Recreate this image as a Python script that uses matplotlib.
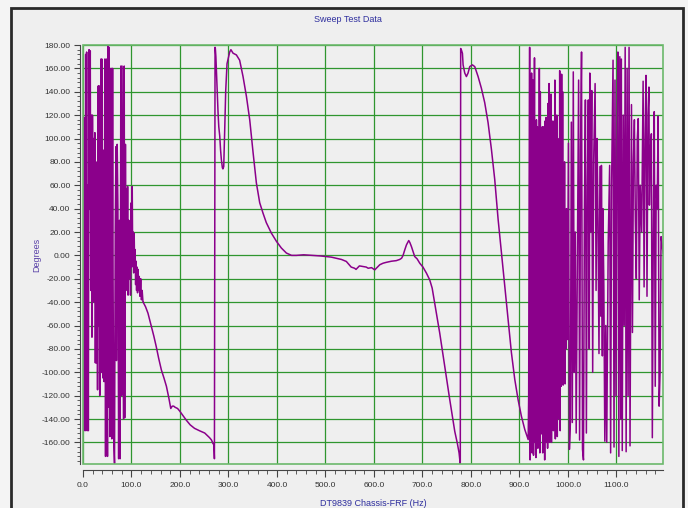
import numpy as np
import matplotlib.pyplot as plt
from matplotlib.patches import Rectangle
from matplotlib.ticker import MultipleLocator, FormatStrFormatter

plt.rcParams['font.family'] = ['Liberation Sans', 'DejaVu Sans']

# noisy start, 0-124 Hz
freq_a = [0.5, 1.5, 2.5, 3.5, 4.5, 5.5, 6.5, 7.5, 8.5, 10, 11, 12.5, 13.5, 15, 16, 17.5, 18.5, 19.5,
          21, 22, 23, 24.5, 25.5, 26.5, 27.5, 29, 30, 31.5, 32.5, 33.5, 34.5, 36, 37, 38, 39, 40,
          41.5, 42.5, 43.5, 45, 46.5, 48, 49, 50.5, 52, 53, 54, 55.5, 57, 58, 59.5, 61, 62, 63.5,
          65, 66.5, 68, 69, 70.5, 72, 73.5, 75, 76.5, 78, 79.5, 80.5, 82, 83.5, 85, 86, 87.5, 88.5,
          90, 91, 92, 93, 94.5, 95.5, 97, 98, 99.5, 100.5, 101.5, 102.5, 103.5, 104.5, 105.5,
          106.5, 107.5, 108.5, 109.5, 110.5, 111.5, 112.5, 113.5, 115, 116, 117.5, 119, 120.5,
          122, 123.7]
phase_a = [118, -150, 118, 10, -150, 172, -80, 174, -150, 60, -150, 176, 40, 175, -30, 120, -70, 120,
           20, 100, -40, 105, -92, 60, -92, 80, -115, 145, -60, 145, -120, 30, 168, -100, 168, 40,
           -105, 90, -108, 168, -172, 168, -40, -172, 180, -130, 178, -155, 60, 160, -157, 160, -20, -160,
           -178, 20, 93, -90, 95, 40, -174, 30, -174, 162, -120, 162, 20, -140, 162, -139, 95, -30,
           57, -20, 59, -34, 30, -20, 15, -34, 45, -10, 59, -5, 20, -15, 19,
           -10, 5, -25, -5, -30, -10, -32, -12, -30, -18, -35, -20, -38,
           -30, -40]

# smooth fall, 124-271 Hz
freq_b = [124, 129, 134, 141, 146, 151, 156, 161.6, 167, 172, 177, 181, 184, 187, 190, 195, 199,
          206, 213, 221, 230, 240, 251, 256, 261, 265, 268, 270, 271]
phase_b = [-40, -44, -49.5, -61, -69, -78, -88, -98, -105, -112, -122, -131, -129, -129, -130, -131, -133,
           -137, -141, -145, -148, -150, -152, -154, -156, -158, -161, -162, -174]

# wrap and peak, 272-430 Hz
freq_c = [272.3, 272.9, 274, 275, 276.5, 278.5, 280, 282, 283.7, 285.3, 287.4, 288.5, 290.2, 291,
          292.2, 294.3, 297, 302.5, 305, 309.4, 316.3, 323, 330, 337, 343.8, 350.7, 357.5, 364.4,
          371.3, 378, 388.5, 398.9, 409, 419.4, 430]
phase_c = [178, 177, 170, 159, 140, 122, 110, 102, 90, 82, 75, 74, 76, 90,
           107, 141, 164, 174, 176, 173, 171.5, 167, 153, 136, 116, 88, 62, 45,
           36, 28, 19, 12, 6.3, 2, 0]

# flat part, 440-720 Hz
freq_d = [440, 455, 474, 490, 502, 512, 522.5, 533, 543, 553, 560, 563, 570, 577.5, 584, 588, 595,
          601.6, 612, 618.8, 625, 636, 646, 653, 657, 660, 663.5, 667, 671.7, 674, 677.2, 684, 689,
          694.4, 701, 708.2, 715, 720]
phase_d = [0, 0.5, 0, -0.5, -1, -1.5, -2.5, -3.5, -5.2, -10, -11, -12, -9, -9.5, -10, -11, -10.5,
           -12.4, -8, -6.7, -6, -5, -4.5, -3.5, -2.4, 0, 4.7, 9, 12.7, 11, 7.6, -1, -3,
           -6.7, -10, -15.2, -21, -28]

# second wrap, 725-918 Hz
freq_e = [725.3, 735.6, 745.9, 756.3, 766.6, 772, 775.5, 778, 778.8, 780.3, 782.4, 783.8, 787.2,
          790.6, 794, 797.5, 803, 807.8, 814.7, 821.5, 828.4, 835.3, 842.2, 849, 856, 862.8, 869.7,
          876.6, 883.4, 890.3, 897.2, 904, 911, 918]
phase_e = [-41, -66.5, -95, -123.5, -150.6, -161, -169, -179, 177, 175.7, 172.9, 163, 156,
           153, 156, 161.5, 163, 161.5, 153, 143, 130.6, 113.5, 90.7, 65, 30.8, 2.3, -26.2,
           -54.7, -83.2, -106, -123.5, -137.6, -149, -157.6]

# dense noise, 919-997 Hz
freq_f = [919, 920, 921, 922, 923, 924, 925, 926, 927, 928, 929, 930, 931, 932, 933, 934, 935, 936,
          937, 938, 939, 940, 941, 942, 943, 944, 945, 946, 947, 948, 949, 950, 951, 952, 953, 954,
          955, 956, 957, 958, 959, 960, 961, 962, 963, 964, 965, 966, 967, 968, 969, 970, 971, 972,
          973, 974, 975, 976, 977, 978, 979, 980, 981, 982, 983, 984, 985, 986, 987, 988, 989, 990,
          991, 992, 993, 994, 995, 996, 997]
phase_f = [-120, 60, 178, -175, 120, -150, 156, -169, 100, 150, -171, 30, 169, -160, 80, -173, 116, -100,
           110, -165, 90, -150, 160, -169, 140, -153, 104, -120, 110, -169, 110, -140, 105, -175, 115, -130,
           118, -160, 100, -165, 130, -150, 147, -160, 120, -140, 138, -160, 100, -140, 115, -150, 80, -130,
           150, -157, 60, -120, 120, -155, 100, -140, 50, -110, 158, -150, 120, -112, 155, -100, 140, -111,
           30, -60, 80, -110, 20, -80, 40]

# sparse noise, 998-1196 Hz
freq_g = [998, 999, 1001, 1003, 1005, 1007, 1009, 1011, 1013, 1015, 1017, 1019, 1022, 1024, 1026,
          1028, 1030, 1032, 1034, 1036, 1038, 1040, 1042, 1044, 1045, 1047, 1049, 1051, 1053, 1056,
          1058, 1060, 1062, 1064, 1066, 1068, 1069, 1071, 1072, 1074, 1076, 1078, 1080, 1083, 1086,
          1088, 1090, 1093, 1095, 1097, 1099, 1101, 1103, 1105, 1107, 1109, 1110, 1112, 1114, 1116,
          1118, 1120, 1122, 1124, 1126, 1128, 1130, 1131, 1133, 1135, 1137, 1139, 1141, 1143, 1145,
          1147, 1149, 1152, 1155, 1157, 1159, 1161, 1163, 1165, 1167, 1168, 1170, 1172, 1174, 1176,
          1178, 1180, 1182, 1184, 1186, 1188, 1190, 1192, 1194, 1196]
phase_g = [-40, -72, 96, -166, -143, 114, -143, 157, -100, 20, -152, -30, 150, -158, 90,
           174, -166, -175, 40, 133, -152, 60, 133, -80, 156, 20, 141, -100, 80, 147,
           -30, 100, 28, -84, 76, -52, 77, -86, 40, -26, -159, -60, -160, 10, 77,
           -169, 60, 167, -164, 150, -120, 90, 174, -172, 170, -140, 168, -167, 120, -60,
           178, -168, 160, -120, 178, -163, 40, 129, -66, 80, 116, 30, -20, 100, 117,
           -38, 60, 20, 149, -27, 100, 154, -35, 120, 144, 43, 90, 104, -156, 20,
           123, -112, 60, 40, 119, -129, -100, 16, 10, 2]

freq = np.concatenate([freq_a, freq_b, freq_c, freq_d, freq_e, freq_f, freq_g])
phase = np.concatenate([phase_a, phase_b, phase_c, phase_d, phase_e, phase_f, phase_g])

W, H = 688, 508
fig = plt.figure(figsize=(W / 100, H / 100), dpi=100, facecolor='#f4f4f4')
fig.patches.append(Rectangle((11 / W, -0.02), 672 / W, 1.02 - 8 / H, transform=fig.transFigure,
                             facecolor='#efefef', edgecolor='#2a2a2a', lw=2, zorder=-10))

ax = fig.add_axes([83 / W, 1 - 464 / H, 580 / W, 419 / H])
ax.set_facecolor('#efefef')
ax.plot(freq, phase, color='#8b008b', lw=1.1, zorder=3)

ax.set_xlim(0, 1196)
ax.set_ylim(-178.5, 180)
ax.xaxis.set_major_locator(MultipleLocator(100))
ax.xaxis.set_minor_locator(MultipleLocator(20))
ax.yaxis.set_major_locator(MultipleLocator(20))
ax.yaxis.set_minor_locator(MultipleLocator(4))
ax.xaxis.set_major_formatter(FormatStrFormatter('%.1f'))
ax.yaxis.set_major_formatter(FormatStrFormatter('%.2f'))
ax.set_xticks(np.arange(0, 1101, 100))

ax.grid(which='major', color='#2f962f', lw=0.9, zorder=1)
ax.tick_params(which='both', colors='#444444', labelsize=6, labelcolor='#333333')
ax.tick_params(axis='y', which='major', length=4, pad=3)
ax.tick_params(axis='y', which='minor', length=2.5)
ax.tick_params(axis='x', which='major', length=5, pad=4)
ax.tick_params(axis='x', which='minor', length=3)

for s in ['top', 'right']:
    ax.spines[s].set_visible(False)
ax.spines['left'].set_position(('outward', 2))
ax.spines['bottom'].set_position(('outward', 4))
ax.spines['left'].set_color('#444444')
ax.spines['bottom'].set_color('#444444')
ax.add_patch(Rectangle((0, 0), 1, 1, transform=ax.transAxes, fill=False,
                       edgecolor='#6cb86c', lw=1.2, clip_on=False, zorder=4))

fig.text(348 / W, 1 - 19 / H, 'Sweep Test Data', ha='center', va='center', fontsize=6.5, color='#2e2e9e')
fig.text(36.5 / W, 1 - 255 / H, 'Degrees', ha='center', va='center', rotation=90,
         fontsize=6.5, color='#5a42a8')
fig.text(373 / W, 1 - 503 / H, 'DT9839 Chassis-FRF (Hz)', ha='center', va='center',
         fontsize=6.5, color='#2e2e9e')

fig.savefig('out.png', dpi=100, facecolor=fig.get_facecolor())
